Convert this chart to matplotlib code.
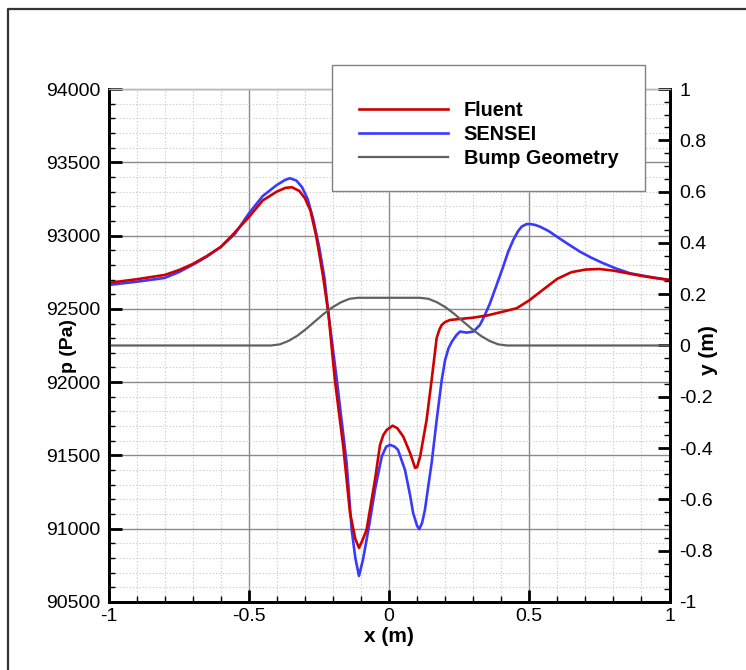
import matplotlib
matplotlib.use("Agg")
import matplotlib.pyplot as plt
from matplotlib.patches import Rectangle
from matplotlib.lines import Line2D
from matplotlib.ticker import MultipleLocator

plt.rcParams['font.family'] = ['Liberation Sans', 'DejaVu Sans']

# pressure along the wall
fluent_x = [-1.0, -0.9, -0.8, -0.75, -0.7, -0.65, -0.6, -0.56, -0.5, -0.45, -0.4, -0.37,
            -0.347, -0.32, -0.3, -0.28, -0.26, -0.249, -0.235, -0.216, -0.193, -0.163,
            -0.139, -0.12, -0.107, -0.095, -0.08, -0.05, -0.032, -0.02, -0.008, 0.013,
            0.03, 0.051, 0.075, 0.093, 0.1, 0.111, 0.134, 0.152, 0.170, 0.18, 0.188, 0.2,
            0.217, 0.253, 0.3, 0.35, 0.4, 0.455, 0.5, 0.55, 0.6, 0.65, 0.7, 0.75, 0.8,
            0.85, 0.9, 0.95, 1.0]
fluent_p = [92677, 92702, 92731, 92764, 92806, 92860, 92922, 93000, 93125, 93240, 93300,
            93325, 93330, 93305, 93256, 93170, 93000, 92881, 92720, 92470, 92015, 91560,
            91108, 90930, 90869, 90920, 90992, 91333, 91572, 91640, 91674, 91703,
            91685, 91628, 91517, 91415, 91420, 91492, 91742, 92015, 92302, 92360, 92390,
            92410, 92424, 92431, 92440, 92455, 92478, 92504, 92558, 92632, 92705, 92750,
            92768, 92772, 92761, 92743, 92725, 92710, 92697]

sensei_x = [-1.0, -0.9, -0.8, -0.75, -0.7, -0.65, -0.6, -0.55, -0.5, -0.45, -0.4, -0.37,
            -0.353, -0.33, -0.31, -0.29, -0.27, -0.249, -0.23, -0.216, -0.186, -0.151,
            -0.133, -0.12, -0.107, -0.093, -0.07, -0.05, -0.026, -0.01, 0.004, 0.02, 0.032,
            0.057, 0.075, 0.086, 0.1, 0.108, 0.118, 0.128, 0.14, 0.152, 0.170, 0.188,
            0.200, 0.212, 0.224, 0.24, 0.253, 0.277, 0.301, 0.324, 0.34, 0.360, 0.385,
            0.407, 0.425, 0.443, 0.46, 0.473, 0.49, 0.503, 0.52, 0.538, 0.57, 0.598,
            0.64, 0.681, 0.72, 0.764, 0.81, 0.859, 0.93, 1.0]
sensei_p = [92663, 92685, 92711, 92750, 92800, 92855, 92922, 93010, 93150, 93270, 93345,
            93380, 93391, 93375, 93330, 93250, 93110, 92922, 92710, 92470, 92015, 91449,
            90992, 90800, 90678, 90787, 91030, 91265, 91492, 91560, 91572, 91560, 91538,
            91401, 91230, 91108, 91020, 90997, 91040, 91128, 91290, 91449, 91742, 92015,
            92151, 92230, 92276, 92320, 92345, 92338, 92345, 92390, 92450, 92538, 92670,
            92788, 92890, 92970, 93030, 93061, 93078, 93079, 93073, 93061, 93030, 92993,
            92940, 92890, 92850, 92811, 92775, 92743, 92718, 92697]

bump_x = [-1.0, -0.42, -0.389, -0.358, -0.327, -0.296, -0.265, -0.234, -0.203, -0.172,
          -0.141, -0.11, 0.0, 0.11, 0.141, 0.172, 0.203, 0.234, 0.265, 0.296, 0.327,
          0.358, 0.389, 0.42, 1.0]
bump_y = [0.0, 0.0, 0.0045, 0.018, 0.038, 0.064, 0.093, 0.122, 0.148, 0.168, 0.182,
          0.186, 0.186, 0.186, 0.182, 0.168, 0.148, 0.122, 0.093, 0.064, 0.038, 0.018,
          0.0045, 0.0, 0.0]

W, H = 746, 670
fig = plt.figure(figsize=(W / 100, H / 100), dpi=100)
ax = fig.add_axes([108.5 / W, 1 - 602 / H, (669.5 - 108.5) / W, (602 - 89) / H])
ax2 = ax.twinx()

l1, = ax.plot(fluent_x, fluent_p, color='#d00000', lw=1.9, label='Fluent', zorder=4)
l2, = ax.plot(sensei_x, sensei_p, color='#3a3aff', lw=1.9, label='SENSEI', zorder=3)
l3, = ax2.plot(bump_x, bump_y, color='#606060', lw=1.6, label='Bump Geometry')

ax.set_xlim(-1, 1)
ax.set_ylim(90500, 94000)
ax2.set_ylim(-1, 1)

ax.xaxis.set_major_locator(MultipleLocator(0.5))
ax.xaxis.set_minor_locator(MultipleLocator(0.1))
ax.yaxis.set_major_locator(MultipleLocator(500))
ax.yaxis.set_minor_locator(MultipleLocator(100))
ax2.yaxis.set_major_locator(MultipleLocator(0.2))
ax2.yaxis.set_minor_locator(MultipleLocator(0.05))

ax.grid(which='major', color='#8a8a8a', lw=1.0, ls='-')
ax.grid(which='minor', color='#cccccc', lw=0.8, ls=(0, (1.2, 1.8)))
ax.set_axisbelow(True)

ax.tick_params(which='major', direction='in', length=9, width=2, labelsize=14, pad=6)
ax.tick_params(which='minor', direction='in', length=4.5, width=1)
ax.tick_params(axis='x', which='major', pad=4)
ax2.tick_params(which='major', direction='in', length=9, width=2, labelsize=14, pad=7)
ax2.tick_params(which='minor', direction='in', length=4.5, width=1)

ax.xaxis.set_major_formatter(plt.FuncFormatter(lambda v, p: '%g' % v))
ax2.yaxis.set_major_formatter(plt.FuncFormatter(lambda v, p: '%g' % round(v, 2)))

for a in (ax, ax2):
    for s in ('left', 'bottom', 'right'):
        a.spines[s].set_linewidth(2)
        a.spines[s].set_color('black')
    a.spines['top'].set_color('#bbbbbb')
    a.spines['top'].set_linewidth(1)

ax.set_xlabel('x (m)', fontsize=15, fontweight='bold', labelpad=2)
ax.set_ylabel('p (Pa)', fontsize=14, fontweight='bold')
ax2.set_ylabel('y (m)', fontsize=15, fontweight='bold')
ax.yaxis.set_label_coords((77 - 108.5) / 561, (602 - 346) / 513)
ax2.yaxis.set_label_coords((699 - 108.5) / 561, (602 - 350) / 513)

# legend box
fig.patches.append(Rectangle((332 / W, 1 - 191 / H), 313 / W, 126 / H,
                             transform=fig.transFigure, facecolor='white',
                             edgecolor='#808080', lw=1.0, zorder=5))
leg = fig.legend(handles=[l1, l2, l3], loc='upper left',
                 bbox_to_anchor=(341 / W, 1 - 83 / H), frameon=False,
                 prop={'weight': 'bold', 'size': 14.3}, handlelength=4.48,
                 handletextpad=0.8, labelspacing=0.25)
leg.set_zorder(6)

# outer frame of the screenshot
fig.lines.append(Line2D([8 / W, 8 / W, 1.0], [0.0, 1 - 9 / H, 1 - 9 / H],
                        transform=fig.transFigure, color='#333333', lw=1.6))

fig.savefig('out.png', dpi=100)
